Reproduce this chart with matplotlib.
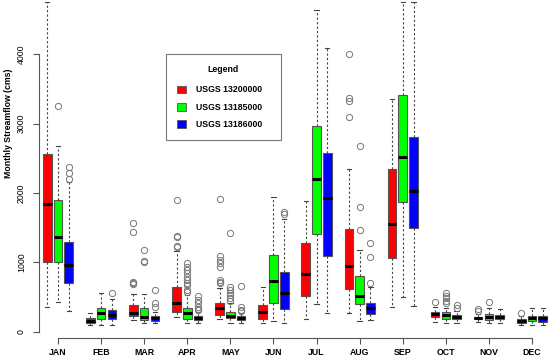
import matplotlib
matplotlib.use("Agg")
import matplotlib.pyplot as plt
from matplotlib.patches import Patch

plt.rcParams["font.family"] = ["Liberation Sans", "DejaVu Sans"]

MONTHS = ["JAN", "FEB", "MAR", "APR", "MAY", "JUN",
          "JUL", "AUG", "SEP", "OCT", "NOV", "DEC"]
STATIONS = ["USGS 13200000", "USGS 13185000", "USGS 13186000"]
COLORS = ["#FF0000", "#00FF00", "#0000FF"]
FS = 6.3

# USGS 13200000
red_low = [356, 92, 169, 208, 179, 121, 183, 265, 361, 144, 144, 97]
red_q1 = [1000, 121, 231, 288, 241, 183, 515, 620, 1058, 216, 179, 121]
red_med = [1837, 159, 265, 418, 337, 280, 837, 947, 1553, 255, 202, 154]
red_q3 = [2562, 193, 385, 649, 418, 385, 1275, 1485, 2346, 288, 216, 179]
red_high = [4754, 274, 548, 1170, 626, 649, 1885, 2346, 3356, 361, 250, 226]
red_out = [[], [], [683, 698, 712, 1438, 1572], [1217, 1236, 1360, 1380, 1899],
           [698, 721, 746, 928, 986, 1034, 1092, 1914], [], [],
           [3092, 3330, 3370, 4000], [], [433], [298, 323], [265]]

# USGS 13185000
green_low = [428, 97, 130, 121, 121, 159, 395, 159, 496, 121, 121, 97]
green_q1 = [1000, 187, 169, 179, 193, 409, 1404, 395, 1875, 179, 169, 159]
green_med = [1361, 270, 216, 265, 226, 731, 2198, 519, 2523, 241, 216, 193]
green_q3 = [1899, 337, 337, 337, 288, 1106, 2966, 803, 3413, 280, 255, 226]
green_high = [2683, 562, 539, 529, 409, 1947, 4639, 1178, 4750, 337, 346, 337]
green_out = [[3259], [], [1005, 1015, 1174],
             [577, 601, 673, 698, 746, 793, 842, 890, 937, 986],
             [443, 481, 529, 562, 601, 640, 1419], [], [],
             [1467, 1803, 2678], [], [418, 447, 481, 515, 553], [433], []]

# USGS 13186000
blue_low = [294, 97, 130, 130, 130, 130, 274, 169, 375, 121, 121, 97]
blue_q1 = [698, 183, 159, 169, 169, 327, 1092, 255, 1491, 179, 179, 144]
blue_med = [962, 236, 198, 193, 202, 553, 1924, 337, 2033, 212, 216, 193]
blue_q3 = [1293, 308, 231, 226, 231, 865, 2573, 418, 2808, 241, 241, 231]
blue_high = [2163, 476, 288, 280, 265, 1621, 4087, 649, 4750, 303, 323, 337]
blue_out = [[2206, 2284, 2371], [562], [361, 409, 601],
            [313, 327, 352, 418, 457, 515], [298, 313, 361, 659],
            [1697, 1722], [], [698, 1082, 1283], [], [346, 385], [], []]

series = [
    (red_low, red_q1, red_med, red_q3, red_high, red_out),
    (green_low, green_q1, green_med, green_q3, green_high, green_out),
    (blue_low, blue_q1, blue_med, blue_q3, blue_high, blue_out),
]

fig = plt.figure(figsize=(5.5, 3.62), dpi=100)
ax = fig.add_axes([39 / 550, 24 / 362, 511 / 550, 338 / 362])

for k, (low, q1, med, q3, high, out) in enumerate(series):
    stats = []
    for i in range(len(MONTHS)):
        stats.append(dict(whislo=low[i], q1=q1[i], med=med[i], q3=q3[i],
                          whishi=high[i], fliers=out[i]))
    pos = [4 * i + 1 + k for i in range(len(MONTHS))]
    bp = ax.bxp(stats, positions=pos, widths=0.8, capwidths=0.4,
                patch_artist=True, showfliers=True,
                boxprops=dict(edgecolor="#555555", linewidth=0.8),
                whiskerprops=dict(color="#444444", linewidth=0.8,
                                  linestyle=(0, (2, 2))),
                capprops=dict(color="#444444", linewidth=0.8),
                medianprops=dict(color="black", linewidth=2.2),
                flierprops=dict(marker="o", markerfacecolor="none",
                                markeredgecolor="#777777", markersize=4.5,
                                markeredgewidth=0.7))
    for b in bp["boxes"]:
        b.set_facecolor(COLORS[k])

ax.set_xlim(0.236, 47.67)
ax.set_ylim(-91, 4783)

for s in ["top", "right"]:
    ax.spines[s].set_visible(False)
ax.spines["left"].set_bounds(0, 4000)
ax.spines["bottom"].set_bounds(2, 46)
ax.spines["left"].set_color("#555555")
ax.spines["bottom"].set_color("#555555")

ax.set_xticks([4 * i + 2 for i in range(len(MONTHS))])
ax.set_xticklabels(MONTHS, fontsize=FS, fontweight="bold")
ax.set_yticks([0, 1000, 2000, 3000, 4000])
ax.set_yticklabels(["0", "1000", "2000", "3000", "4000"], fontsize=FS,
                   rotation=90, va="center")
ax.tick_params(axis="both", length=4, width=0.8, color="#555555")
ax.tick_params(axis="x", pad=3.5)
ax.tick_params(axis="y", pad=5.5)

ax.set_ylabel("Monthly Streamflow (cms)", fontsize=FS, fontweight="bold")
ax.yaxis.set_label_coords(-0.051, 0.636)

handles = [Patch(facecolor=c, edgecolor="#555555", linewidth=0.6) for c in COLORS]
leg = fig.legend(handles, STATIONS, loc="upper left",
                 bbox_to_anchor=(166 / 550, 1 - 142 / 362, 115 / 550, 88 / 362),
                 mode="expand", title="Legend", fancybox=False,
                 prop=dict(size=FS, weight="bold"),
                 title_fontproperties=dict(size=FS, weight="bold"),
                 handlelength=1.0, handleheight=1.0, handletextpad=1.1,
                 labelspacing=0.95, borderpad=1.3, borderaxespad=0)
leg.get_frame().set_edgecolor("#555555")
leg.get_frame().set_linewidth(0.8)
leg._legend_box.sep = 8

fig.savefig("out.png", dpi=100)
